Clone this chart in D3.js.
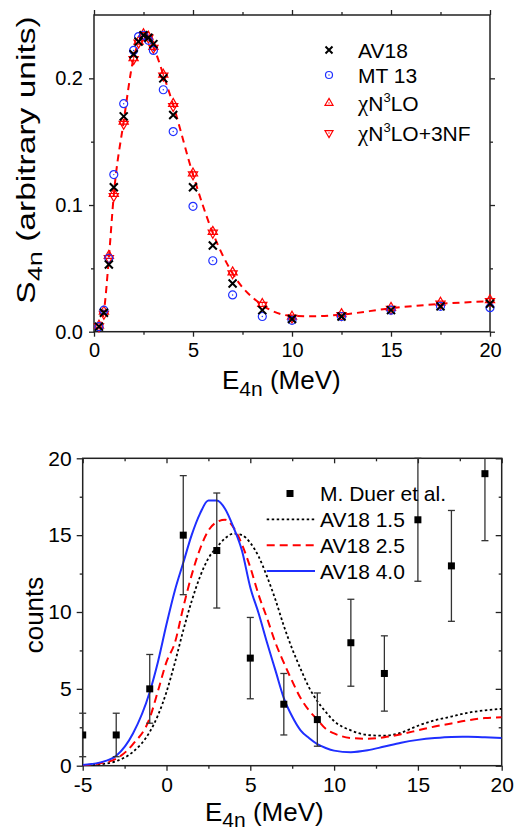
<!DOCTYPE html>
<html>
<head>
<meta charset="utf-8">
<script src="https://cdn.jsdelivr.net/npm/d3@7"></script>
<style>
  body { margin: 0; background: #fff; }
  text { font-family: "Liberation Sans", Arial, sans-serif; }
</style>
</head>
<body>
<div id="chart"></div>
<script>
// ---- top panel data (S_4n) ----
var topE = [0.25, 0.5, 0.75, 1.0, 1.5, 2.0, 2.25, 2.5, 2.75, 3.0, 3.5, 4.0, 5.0, 6.0, 7.0, 8.5, 10, 12.5, 15, 17.5, 20]
var av18 = [0.004, 0.015, 0.053, 0.114, 0.170, 0.219, 0.229, 0.234, 0.232, 0.227, 0.200, 0.171, 0.114, 0.068, 0.038, 0.017, 0.010, 0.012, 0.017, 0.020, 0.022]
var mt13 = [0.004, 0.017, 0.058, 0.124, 0.180, 0.222, 0.233, 0.234, 0.230, 0.222, 0.191, 0.158, 0.099, 0.056, 0.029, 0.012, 0.009, 0.012, 0.017, 0.020, 0.019]
var chiN3LO = [0.005, 0.016, 0.060, 0.109, 0.166, 0.216, 0.229, 0.235, 0.233, 0.225, 0.203, 0.180, 0.125, 0.079, 0.047, 0.022, 0.012, 0.014, 0.019, 0.023, 0.025]
var chiN3LO3NF = [0.004, 0.014, 0.058, 0.107, 0.164, 0.215, 0.228, 0.234, 0.232, 0.224, 0.202, 0.178, 0.124, 0.078, 0.046, 0.021, 0.011, 0.013, 0.018, 0.022, 0.024]

var fitE = [0.25, 0.5, 0.75, 1, 1.5, 2, 2.25, 2.5, 2.75, 3, 3.5, 4, 5, 6, 7, 8.5, 10, 11, 12.5, 15, 17.5, 20]
var fitS = [0.003, 0.016, 0.058, 0.108, 0.166, 0.216, 0.228, 0.234, 0.233, 0.225, 0.203, 0.179, 0.124, 0.078, 0.046, 0.021, 0.0125, 0.0122, 0.0135, 0.0185, 0.022, 0.024]

// ---- bottom panel data (counts) ----
var expE = [-5, -3, -1, 1, 3, 5, 7, 9, 11, 13, 15, 17, 19]
var expCounts = [2, 2, 5, 15, 14, 7, 4, 3, 8, 6, 16, 13, 19]

var curveE = [-5, -4, -3, -2, -1, -0.5, 0, 0.5, 1, 1.5, 2, 2.5, 3, 3.5, 4, 4.5, 5, 5.5, 6, 6.5, 7, 7.5, 8, 8.5, 9, 9.5, 10, 11, 12, 13, 14, 15, 16, 17, 18, 19, 20]
var av18_15 = [0.0, 0.08, 0.3, 0.9, 2.2, 3.3, 4.8, 6.7, 8.8, 10.7, 12.3, 13.5, 14.2, 14.8, 15.1, 15.0, 14.5, 13.6, 12.3, 10.8, 9.1, 7.6, 6.3, 5.1, 4.2, 3.5, 2.9, 2.3, 2.0, 1.95, 2.15, 2.6, 2.95, 3.2, 3.45, 3.6, 3.7]
var av18_25 = [0.02, 0.15, 0.45, 1.4, 3.1, 4.9, 6.75, 8.0, 10.3, 12.4, 14.1, 15.3, 15.85, 16.0, 15.5, 14.4, 12.9, 11.1, 9.6, 8.0, 6.7, 5.5, 4.4, 3.6, 3.0, 2.4, 2.1, 1.8, 1.75, 1.85, 2.05, 2.3, 2.55, 2.75, 2.95, 3.1, 3.15]
var av18_40 = [0.05, 0.2, 0.65, 2.1, 4.8, 6.8, 9.2, 11.4, 13.2, 15.0, 16.4, 17.25, 17.25, 16.7, 15.5, 14.0, 11.6, 9.9, 8.0, 6.2, 4.4, 3.2, 2.3, 1.8, 1.4, 1.15, 0.98, 0.88, 1.0, 1.25, 1.5, 1.68, 1.8, 1.87, 1.88, 1.85, 1.8]

var blue = "#1f2fff", red = "#ff0000"

var svg = d3.select("#chart").append("svg")
  .attr("width", 514)
  .attr("height", 830)

// markers
function xMark(s) { return "M" + -s + "," + -s + "L" + s + "," + s + "M" + -s + "," + s + "L" + s + "," + -s }
function triUp(s) { return "M0," + (-s * 1.15) + "L" + s + "," + (s * 0.58) + "L" + -s + "," + (s * 0.58) + "Z" }
function triDown(s) { return "M0," + (s * 1.15) + "L" + s + "," + (-s * 0.58) + "L" + -s + "," + (-s * 0.58) + "Z" }

function drawMarker(g, kind, s) {
  if (kind == "x") {
    g.append("path").attr("d", xMark(s)).attr("stroke", "#000").attr("stroke-width", 2).attr("fill", "none")
  } else if (kind == "o") {
    g.append("circle").attr("r", s).attr("stroke", blue).attr("stroke-width", 1.2).attr("fill", "none")
    g.append("circle").attr("r", 0.7).attr("fill", blue)
  } else {
    g.append("path").attr("d", kind == "up" ? triUp(s) : triDown(s))
      .attr("stroke", red).attr("stroke-width", 1.2).attr("fill", "none")
    g.append("circle").attr("r", 0.7).attr("fill", red)
  }
}

function styleTicks(g, size) {
  g.select(".domain").remove()
  g.selectAll("line").attr("stroke", "#222").attr("stroke-width", 1.3)
  g.selectAll("text").attr("fill", "#000").style("font-size", size + "px").style("font-family", '"Liberation Sans", Arial, sans-serif')
}

function frame(x, y) {
  var r = x.range(), d = y.range()
  svg.append("rect")
    .attr("x", r[0]).attr("y", d[1])
    .attr("width", r[1] - r[0]).attr("height", d[0] - d[1])
    .attr("fill", "none").attr("stroke", "#222").attr("stroke-width", 1.5)
}

// ================= top panel =================
var xTop = d3.scaleLinear().domain([0, 20]).range([94, 490])
var yTop = d3.scaleLinear().domain([0, 0.25]).range([331.7, 15])

var xMinorTop = [2.5, 7.5, 12.5, 17.5]
var yMinorTop = [0.05, 0.15]

svg.append("g").attr("transform", "translate(0," + yTop(0) + ")")
  .call(d3.axisBottom(xTop).tickValues([0, 5, 10, 15, 20]).tickSize(5).tickPadding(6).tickFormat(d3.format("d")))
  .call(styleTicks, 20)
svg.append("g").attr("transform", "translate(0," + yTop(0) + ")")
  .call(d3.axisBottom(xTop).tickValues(xMinorTop).tickSize(3).tickFormat(""))
  .call(styleTicks, 20)
svg.append("g").attr("transform", "translate(0," + yTop(0.25) + ")")
  .call(d3.axisTop(xTop).tickValues([0, 5, 10, 15, 20]).tickSize(5).tickFormat(""))
  .call(styleTicks, 20)
svg.append("g").attr("transform", "translate(0," + yTop(0.25) + ")")
  .call(d3.axisTop(xTop).tickValues(xMinorTop).tickSize(3).tickFormat(""))
  .call(styleTicks, 20)
svg.append("g").attr("transform", "translate(" + xTop(0) + ",0)")
  .call(d3.axisLeft(yTop).tickValues([0, 0.1, 0.2]).tickSize(5).tickPadding(6).tickFormat(d3.format(".1f")))
  .call(styleTicks, 20)
svg.append("g").attr("transform", "translate(" + xTop(0) + ",0)")
  .call(d3.axisLeft(yTop).tickValues(yMinorTop).tickSize(3).tickFormat(""))
  .call(styleTicks, 20)
svg.append("g").attr("transform", "translate(" + xTop(20) + ",0)")
  .call(d3.axisRight(yTop).tickValues([0, 0.1, 0.2]).tickSize(5).tickFormat(""))
  .call(styleTicks, 20)
svg.append("g").attr("transform", "translate(" + xTop(20) + ",0)")
  .call(d3.axisRight(yTop).tickValues(yMinorTop).tickSize(3).tickFormat(""))
  .call(styleTicks, 20)

frame(xTop, yTop)

// dashed fit line
var fitLine = d3.line()
  .x(function (d) { return xTop(d[0]) })
  .y(function (d) { return yTop(d[1]) })
  .curve(d3.curveMonotoneX)
svg.append("path")
  .datum(d3.zip(fitE, fitS))
  .attr("d", fitLine)
  .attr("fill", "none")
  .attr("stroke", red)
  .attr("stroke-width", 2)
  .attr("stroke-dasharray", "7,5")

var topSeries = [
  { name: "AV18", kind: "x", vals: av18 },
  { name: "MT 13", kind: "o", vals: mt13 },
  { name: "chi", kind: "up", vals: chiN3LO },
  { name: "chi3nf", kind: "down", vals: chiN3LO3NF }
]
// draw in reverse so the crosses sit on top
topSeries.slice().reverse().forEach(function (s) {
  topE.forEach(function (e, i) {
    var g = svg.append("g").attr("transform", "translate(" + xTop(e) + "," + yTop(s.vals[i]) + ")")
    drawMarker(g, s.kind, s.kind == "x" ? 4 : (s.kind == "o" ? 4 : 4.6))
  })
})

// top legend
var legTop = [
  { kind: "x", y: 50 },
  { kind: "o", y: 75 },
  { kind: "up", y: 103 },
  { kind: "down", y: 133 }
]
legTop.forEach(function (d) {
  var g = svg.append("g").attr("transform", "translate(329," + d.y + ")")
  drawMarker(g, d.kind, d.kind == "x" ? 3.5 : (d.kind == "o" ? 3.5 : 4))
})
function legText(y) {
  return svg.append("text").attr("x", 358).attr("y", y).style("font-size", "21px").attr("fill", "#000")
}
legText(57.5).text("AV18")
legText(82.5).text("MT 13")
var t3 = legText(111)
t3.append("tspan").style("font-family", '"Liberation Serif", serif').style("font-size", "23px").text("χ")
t3.append("tspan").text("N")
t3.append("tspan").attr("dy", -9).style("font-size", "13px").text("3")
t3.append("tspan").attr("dy", 9).text("LO")
var t4 = legText(141)
t4.append("tspan").style("font-family", '"Liberation Serif", serif').style("font-size", "23px").text("χ")
t4.append("tspan").text("N")
t4.append("tspan").attr("dy", -9).style("font-size", "13px").text("3")
t4.append("tspan").attr("dy", 9).text("LO+3NF")

// axis titles top
var yt = svg.append("text")
  .attr("transform", "translate(35,160) rotate(-90) scale(1.29,1)")
  .attr("text-anchor", "middle")
  .style("font-size", "26px")
  .attr("fill", "#000")
yt.append("tspan").text("S")
yt.append("tspan").attr("dy", 7).style("font-size", "21px").text("4n")
yt.append("tspan").attr("dy", -7).text(" (arbitrary units)")

var xt = svg.append("text").attr("x", 222).attr("y", 389).style("font-size", "26px").attr("fill", "#000")
xt.append("tspan").text("E")
xt.append("tspan").attr("dy", 7).style("font-size", "21px").text("4n")
xt.append("tspan").attr("dy", -7).text(" (MeV)")

// ================= bottom panel =================
var xBot = d3.scaleLinear().domain([-5, 20]).range([82.7, 501.7])
var yBot = d3.scaleLinear().domain([0, 20]).range([765.7, 458.3])

var xMajBot = [-5, 0, 5, 10, 15, 20]
var xMinBot = [-2.5, 2.5, 7.5, 12.5, 17.5]
var yMajBot = [0, 5, 10, 15, 20]
var yMinBot = [2.5, 7.5, 12.5, 17.5]

svg.append("defs").append("clipPath").attr("id", "clipBot")
  .append("rect").attr("x", xBot(-5)).attr("y", yBot(20))
  .attr("width", xBot(20) - xBot(-5)).attr("height", yBot(0) - yBot(20))

svg.append("g").attr("transform", "translate(0," + yBot(0) + ")")
  .call(d3.axisBottom(xBot).tickValues(xMajBot).tickSize(5).tickPadding(6).tickFormat(function (d) { return String(d) }))
  .call(styleTicks, 21)
svg.append("g").attr("transform", "translate(0," + yBot(0) + ")")
  .call(d3.axisBottom(xBot).tickValues(xMinBot).tickSize(3).tickFormat(""))
  .call(styleTicks, 21)
svg.append("g").attr("transform", "translate(0," + yBot(20) + ")")
  .call(d3.axisTop(xBot).tickValues(xMajBot).tickSize(-5).tickFormat(""))
  .call(styleTicks, 21)
svg.append("g").attr("transform", "translate(0," + yBot(20) + ")")
  .call(d3.axisTop(xBot).tickValues(xMinBot).tickSize(-3).tickFormat(""))
  .call(styleTicks, 21)
svg.append("g").attr("transform", "translate(" + xBot(-5) + ",0)")
  .call(d3.axisLeft(yBot).tickValues(yMajBot).tickSize(6).tickPadding(5).tickFormat(d3.format("d")))
  .call(styleTicks, 21)
svg.append("g").attr("transform", "translate(" + xBot(-5) + ",0)")
  .call(d3.axisLeft(yBot).tickValues(yMinBot).tickSize(3).tickFormat(""))
  .call(styleTicks, 21)
svg.append("g").attr("transform", "translate(" + xBot(20) + ",0)")
  .call(d3.axisRight(yBot).tickValues(yMajBot).tickSize(-6).tickFormat(""))
  .call(styleTicks, 21)
svg.append("g").attr("transform", "translate(" + xBot(20) + ",0)")
  .call(d3.axisRight(yBot).tickValues(yMinBot).tickSize(-3).tickFormat(""))
  .call(styleTicks, 21)

frame(xBot, yBot)

var botLine = d3.line()
  .x(function (d) { return xBot(d[0]) })
  .y(function (d) { return yBot(d[1]) })
  .curve(d3.curveMonotoneX)

var botCurves = [
  { vals: av18_15, color: "#000", dash: "2.5,2.5", w: 1.8 },
  { vals: av18_25, color: red, dash: "8,5", w: 2 },
  { vals: av18_40, color: blue, dash: null, w: 2 }
]
var curveG = svg.append("g").attr("clip-path", "url(#clipBot)")
botCurves.forEach(function (c) {
  curveG.append("path")
    .datum(d3.zip(curveE, c.vals))
    .attr("d", botLine)
    .attr("fill", "none")
    .attr("stroke", c.color)
    .attr("stroke-width", c.w)
    .attr("stroke-dasharray", c.dash)
})

// experimental points with sqrt(N) error bars
var errG = svg.append("g")
expE.forEach(function (e, i) {
  var n = expCounts[i], err = Math.sqrt(n)
  var x = xBot(e)
  var hi = Math.min(n + err, 20), lo = n - err
  errG.append("line").attr("x1", x).attr("x2", x).attr("y1", yBot(hi)).attr("y2", yBot(lo))
    .attr("stroke", "#333").attr("stroke-width", 1.3)
  if (n + err <= 20) {
    errG.append("line").attr("x1", x - 3.5).attr("x2", x + 3.5).attr("y1", yBot(hi)).attr("y2", yBot(hi))
      .attr("stroke", "#333").attr("stroke-width", 1.3)
  }
  errG.append("line").attr("x1", x - 3.5).attr("x2", x + 3.5).attr("y1", yBot(lo)).attr("y2", yBot(lo))
    .attr("stroke", "#333").attr("stroke-width", 1.3)
})
svg.append("g").attr("clip-path", "url(#clipBot)")
  .selectAll("rect")
  .data(d3.zip(expE, expCounts))
  .enter()
  .append("rect")
  .attr("x", function (d) { return xBot(d[0]) - 3.5 })
  .attr("y", function (d) { return yBot(d[1]) - 3.5 })
  .attr("width", 7)
  .attr("height", 7)
  .attr("fill", "#000")

// bottom legend
svg.append("rect").attr("x", 286.5).attr("y", 490).attr("width", 7).attr("height", 7).attr("fill", "#000")
botCurves.forEach(function (c, i) {
  svg.append("line")
    .attr("x1", 266.7).attr("x2", 315)
    .attr("y1", 519.3 + i * 25.9).attr("y2", 519.3 + i * 25.9)
    .attr("stroke", c.color).attr("stroke-width", c.w).attr("stroke-dasharray", c.dash)
})
var botLabels = ["M. Duer et al.", "AV18 1.5", "AV18 2.5", "AV18 4.0"]
botLabels.forEach(function (t, i) {
  svg.append("text").attr("x", 320).attr("y", 501 + i * 26)
    .style("font-size", "21px").attr("fill", "#000").text(t)
})

svg.append("text")
  .attr("transform", "translate(43,615) rotate(-90)")
  .attr("text-anchor", "middle")
  .style("font-size", "26px")
  .attr("fill", "#000")
  .text("counts")

var xb = svg.append("text").attr("x", 205).attr("y", 821).style("font-size", "26px").attr("fill", "#000")
xb.append("tspan").text("E")
xb.append("tspan").attr("dy", 6).style("font-size", "21px").text("4n")
xb.append("tspan").attr("dy", -6).text(" (MeV)")
</script>
</body>
</html>
